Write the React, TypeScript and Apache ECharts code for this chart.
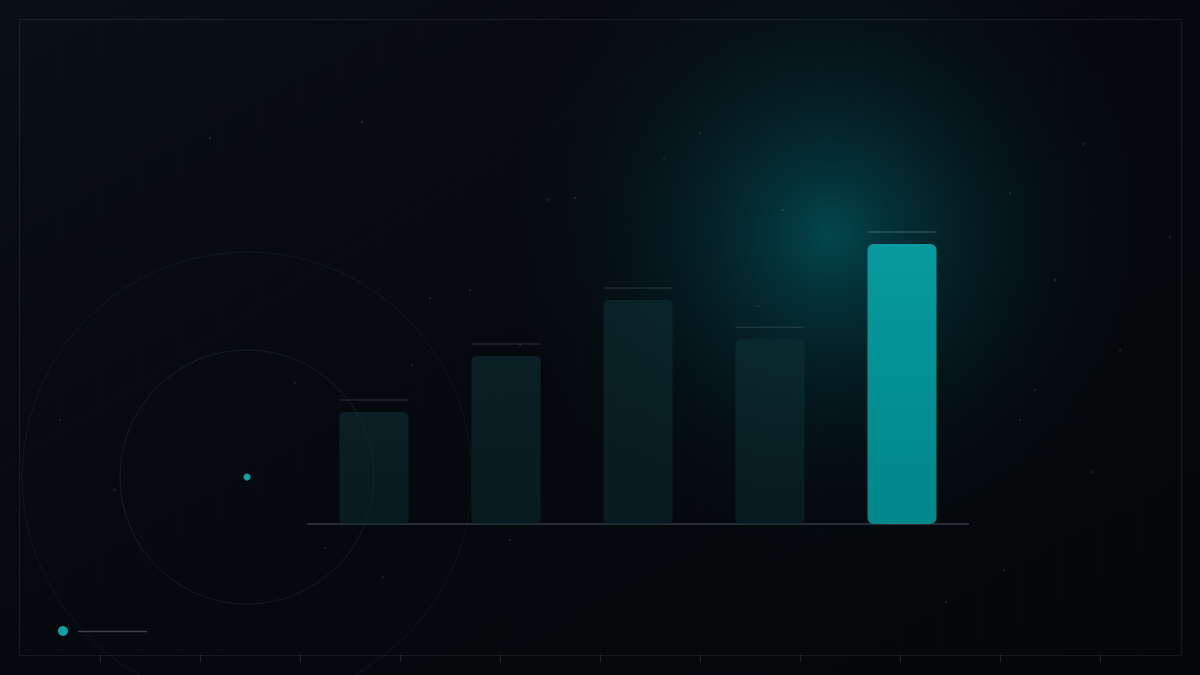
import React, { useEffect, useRef } from 'react';
import * as echarts from 'echarts';

const categories = ['A', 'B', 'C', 'D', 'E'];
const values = [40, 60, 80, 66, 100];
const highlightIndex = 4;
const bottomTicks = [100, 200, 300, 400, 500, 600, 700, 800, 900, 1000, 1100];
const particles = [
  [362, 122], [548, 200], [664, 158], [210, 138], [470, 290], [430, 298], [412, 365],
  [295, 383], [325, 548], [383, 577], [510, 540], [575, 198], [520, 345], [1010, 193],
  [1083, 144], [1055, 280], [1035, 390], [1020, 420], [1004, 570], [1092, 472], [1120, 350],
  [783, 210], [758, 306], [700, 133], [946, 602], [1170, 237], [115, 490], [60, 420],
];

const App: React.FC = () => {
  const chartRef = useRef<HTMLDivElement>(null);

  useEffect(() => {
    if (!chartRef.current) return;
    const chart = echarts.init(chartRef.current, undefined, { renderer: 'svg' });

    const dimBar = new echarts.graphic.LinearGradient(0, 0, 0, 1, [
      { offset: 0, color: 'rgba(12, 46, 50, 0.62)' },
      { offset: 1, color: 'rgba(10, 38, 42, 0.62)' },
    ]);
    const brightBar = new echarts.graphic.LinearGradient(0, 0, 0, 1, [
      { offset: 0, color: '#079a9e' },
      { offset: 1, color: '#00878a' },
    ]);

    const bgElements: any[] = [
      {
        type: 'rect',
        z: -20,
        shape: { x: 0, y: 0, width: 1200, height: 675 },
        style: {
          fill: new echarts.graphic.LinearGradient(0, 0, 1, 1, [
            { offset: 0, color: '#0a0f16' },
            { offset: 0.5, color: '#05090d' },
            { offset: 1, color: '#04070a' },
          ]),
        },
        silent: true,
      },
      {
        type: 'circle',
        z: -19,
        shape: { cx: 830, cy: 235, r: 320 },
        style: {
          fill: new echarts.graphic.RadialGradient(0.5, 0.5, 0.5, [
            { offset: 0, color: 'rgba(0, 120, 130, 0.55)' },
            { offset: 0.35, color: 'rgba(0, 95, 105, 0.3)' },
            { offset: 0.7, color: 'rgba(0, 70, 80, 0.1)' },
            { offset: 1, color: 'rgba(0, 60, 70, 0)' },
          ]),
        },
        silent: true,
      },
      {
        type: 'rect',
        z: -18,
        shape: { x: 19.5, y: 19.5, width: 1162, height: 636 },
        style: { fill: 'none', stroke: 'rgba(255,255,255,0.07)', lineWidth: 1 },
        silent: true,
      },
      {
        type: 'circle',
        z: -18,
        shape: { cx: 247, cy: 477, r: 127 },
        style: { fill: 'none', stroke: 'rgba(90,130,140,0.16)', lineWidth: 1 },
        silent: true,
      },
      {
        type: 'circle',
        z: -18,
        shape: { cx: 247, cy: 477, r: 225 },
        style: { fill: 'none', stroke: 'rgba(90,130,140,0.1)', lineWidth: 1 },
        silent: true,
      },
      {
        type: 'line',
        z: -18,
        shape: { x1: 0, y1: 470, x2: 720, y2: 20 },
        style: { stroke: 'rgba(90,120,140,0.07)', lineWidth: 1 },
        silent: true,
      },
      {
        type: 'line',
        z: -18,
        shape: { x1: 0, y1: 520, x2: 560, y2: 180 },
        style: { stroke: 'rgba(90,120,140,0.05)', lineWidth: 1 },
        silent: true,
      },
      {
        type: 'circle',
        z: 5,
        shape: { cx: 247, cy: 477, r: 3.5 },
        style: { fill: '#0aa3a6' },
        silent: true,
      },
      {
        type: 'circle',
        z: 5,
        shape: { cx: 63, cy: 631, r: 5 },
        style: { fill: '#0aa3a6' },
        silent: true,
      },
      {
        type: 'line',
        z: 5,
        shape: { x1: 78, y1: 631.5, x2: 147, y2: 631.5 },
        style: { stroke: 'rgba(130,140,150,0.45)', lineWidth: 1.5 },
        silent: true,
      },
    ];

    for (let x = 60; x < 1200; x += 40) {
      bgElements.push({
        type: 'line',
        z: -19,
        shape: { x1: x + 0.5, y1: 20, x2: x + 0.5, y2: 655 },
        style: { stroke: 'rgba(255,255,255,0.012)', lineWidth: 1 },
        silent: true,
      });
    }
    bottomTicks.forEach((x) => {
      bgElements.push({
        type: 'line',
        z: -18,
        shape: { x1: x + 0.5, y1: 655, x2: x + 0.5, y2: 662 },
        style: { stroke: 'rgba(255,255,255,0.12)', lineWidth: 1 },
        silent: true,
      });
    });
    particles.forEach(([x, y]) => {
      bgElements.push({
        type: 'circle',
        z: -17,
        shape: { cx: x, cy: y, r: 1 },
        style: { fill: 'rgba(150,170,180,0.18)' },
        silent: true,
      });
    });

    const option: echarts.EChartsOption = {
      animation: false,
      backgroundColor: '#05080c',
      graphic: { elements: bgElements },
      grid: { left: 308, right: 232, top: 244, bottom: 151 },
      xAxis: {
        type: 'category',
        data: categories,
        axisLine: { show: true, lineStyle: { color: '#262d34', width: 2 } },
        axisTick: { show: false },
        axisLabel: { show: false },
      },
      yAxis: {
        type: 'value',
        min: 0,
        max: 100,
        show: false,
        splitLine: { show: false },
      },
      series: [
        {
          type: 'bar',
          barWidth: 69,
          z: 3,
          data: values.map((v, i) => ({
            value: v,
            itemStyle: {
              color: i === highlightIndex ? brightBar : dimBar,
              borderRadius: i === highlightIndex ? 6 : 5,
            },
          })),
        },
        {
          type: 'scatter',
          symbol: 'rect',
          symbolSize: [69, 1.5],
          symbolOffset: [0, -12],
          z: 4,
          silent: true,
          data: values.map((v, i) => ({
            value: v,
            itemStyle: {
              color: i === highlightIndex ? 'rgba(80,130,135,0.6)' : 'rgba(110,120,128,0.3)',
            },
          })),
        },
      ],
    };

    chart.setOption(option);
    return () => {
      chart.dispose();
    };
  }, []);

  return (
    <div
      ref={chartRef}
      style={{ position: 'fixed', left: 0, top: 0, width: '1200px', height: '675px' }}
    />
  );
};

export default App;
